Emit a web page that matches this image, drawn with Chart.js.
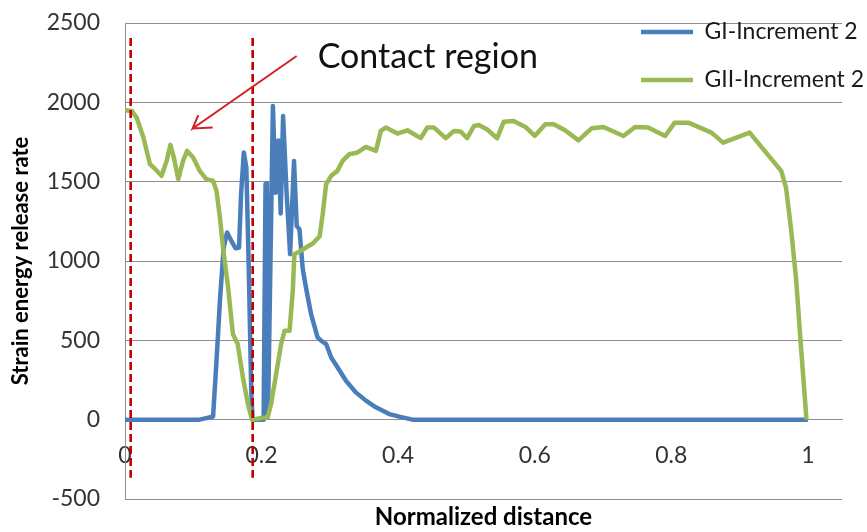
<!DOCTYPE html>
<html>
<head>
<meta charset="utf-8">
<title>Strain energy release rate</title>
<script src="https://cdn.jsdelivr.net/npm/chart.js@4.4.0/dist/chart.umd.min.js"></script>
<style>
  body { margin: 0; background: #fff; }
  #chart { display: block; }
</style>
</head>
<body>
<canvas id="chart" width="867" height="532"></canvas>
<script>
// values
const giDistance = [0, 0.109, 0.119, 0.129, 0.134, 0.139, 0.1445, 0.1495, 0.1557, 0.162, 0.167, 0.170, 0.174,
  0.1777, 0.181, 0.185, 0.187, 0.203, 0.2058, 0.2078, 0.2095, 0.2166, 0.2205, 0.2245, 0.228, 0.2315, 0.2365,
  0.2418, 0.2475, 0.2515, 0.2555, 0.2603, 0.265, 0.2725, 0.282, 0.2895, 0.2945, 0.302, 0.3114, 0.3236, 0.338,
  0.3528, 0.3674, 0.387, 0.4015, 0.421, 1];
const giRate = [0, 0, 10, 20, 371, 749, 1085, 1180, 1127, 1080, 1085, 1421, 1684,
  1589, 1001, 162, 0, 0, 1484, 1490, 40, 1977, 1430, 1760, 1300, 1914, 1440,
  1043, 1631, 1220, 1200, 950, 833, 665, 518, 490, 477, 392, 329, 245, 172,
  120, 78, 35, 19, 0, 0];

const giiDistance = [0, 0.01, 0.017, 0.027, 0.0365, 0.044, 0.0535, 0.061, 0.0665, 0.0715, 0.078, 0.085, 0.091,
  0.0998, 0.1095, 0.119, 0.129, 0.134, 0.139, 0.1435, 0.151, 0.158, 0.165, 0.1727, 0.18, 0.186, 0.2, 0.209,
  0.214, 0.2214, 0.2287, 0.2336, 0.241, 0.2457, 0.248, 0.2555, 0.265, 0.275, 0.285, 0.2895, 0.2945, 0.302,
  0.311, 0.3187, 0.3285, 0.3406, 0.3528, 0.3674, 0.3747, 0.382, 0.399, 0.4135, 0.433, 0.4428, 0.4526, 0.4696,
  0.4818, 0.4915, 0.501, 0.511, 0.518, 0.53, 0.545, 0.5547, 0.569, 0.5864, 0.6, 0.6155, 0.628, 0.645, 0.664,
  0.6837, 0.7007, 0.73, 0.747, 0.766, 0.791, 0.805, 0.825, 0.8588, 0.876, 0.8953, 0.9148, 0.9367, 0.961,
  0.968, 0.9757, 0.983, 0.99, 0.998];
const giiRate = [1950, 1946, 1904, 1778, 1610, 1580, 1537, 1631, 1732, 1652, 1516, 1631, 1694,
  1652, 1568, 1516, 1505, 1442, 1274, 1085, 833, 540, 477, 266, 99, 0, 10, 15,
  100, 290, 477, 560, 560, 812, 1043, 1060, 1085, 1110, 1155, 1295, 1484, 1537,
  1568, 1631, 1673, 1684, 1719, 1694, 1820, 1841, 1803, 1824, 1774, 1841, 1841, 1774,
  1820, 1816, 1774, 1851, 1857, 1830, 1774, 1878, 1882, 1845, 1788, 1862, 1862, 1822, 1760,
  1837, 1845, 1788, 1845, 1841, 1788, 1872, 1872, 1809, 1746, 1778, 1809, 1694, 1568,
  1463, 1190, 875, 455, 0];

const xTicks = [0, 0.2, 0.4, 0.6, 0.8, 1];
const yTicks = [-500, 0, 500, 1000, 1500, 2000, 2500];

// contact region markers, arrow and note (data coordinates)
const markerX = [0.0083, 0.187];
const markerY = [2405, -366];
const arrowX = [0.2514, 0.0991, 0.1073, 0.0991, 0.1284];
const arrowY = [2292, 1835, 1919, 1835, 1842];
const noteText = 'Contact region';
const notePos = [0.2821, 2287];

const zip = (xs, ys) => xs.map((x, i) => ({x: x, y: ys[i]}));

const BLUE = '#4a7ebb';
const GREEN = '#98b954';
const RED = '#c00000';
const GRID = '#8e8e8e';
const FONT = 'Lato, "Open Sans", sans-serif';

function markerSet(x) {
  return {
    label: 'marker', data: zip([x, x], markerY),
    borderColor: RED, borderWidth: 2.6, borderDash: [8, 4],
    pointRadius: 0, order: -1
  };
}

// puts the legend at the top right, overlapping the plot like the original
const legendSpot = {
  id: 'legendSpot',
  afterLayout(chart) {
    const lg = chart.legend;
    if (!lg) return;
    lg.left = 616;
    lg.right = lg.left + lg.width;
    lg.top = -4.5;
    lg.bottom = lg.top + 300;
  }
};

const contactNote = {
  id: 'contactNote',
  afterDatasetsDraw(chart) {
    const {ctx, scales} = chart;
    ctx.save();
    ctx.font = '34px ' + FONT;
    ctx.fillStyle = '#111';
    ctx.textAlign = 'left';
    ctx.textBaseline = 'middle';
    ctx.fillText(noteText, scales.x.getPixelForValue(notePos[0]), scales.y.getPixelForValue(notePos[1]));
    ctx.restore();
  }
};

new Chart(document.getElementById('chart'), {
  type: 'line',
  data: {
    datasets: [
      {
        label: 'GI-Increment 2', data: zip(giDistance, giRate),
        borderColor: BLUE, backgroundColor: BLUE, borderWidth: 4.5,
        pointRadius: 0, borderJoinStyle: 'round', order: 1
      },
      {
        label: 'GII-Increment 2', data: zip(giiDistance, giiRate),
        borderColor: GREEN, backgroundColor: GREEN, borderWidth: 4.5,
        pointRadius: 0, borderJoinStyle: 'round', order: 0
      },
      markerSet(markerX[0]),
      markerSet(markerX[1]),
      {
        label: 'arrow', data: zip(arrowX, arrowY),
        borderColor: '#d42020', borderWidth: 2, pointRadius: 0, order: -2
      }
    ]
  },
  options: {
    responsive: false,
    animation: false,
    layout: { padding: { left: 0, top: 23, right: 25, bottom: 33 } },
    plugins: {
      tooltip: { enabled: false },
      legend: {
        position: 'chartArea',
        align: 'start',
        labels: {
          usePointStyle: true,
          pointStyle: 'line',
          pointStyleWidth: 52,
          padding: 25,
          color: '#1a1a1a',
          font: { family: FONT, size: 23 },
          filter: (item) => item.datasetIndex < 2,
          sort: (a, b) => a.datasetIndex - b.datasetIndex
        }
      }
    },
    scales: {
      x: {
        type: 'linear',
        position: { y: 0 },
        min: 0,
        max: 1.05,
        afterBuildTicks: (scale) => { scale.ticks = xTicks.map(v => ({value: v})); },
        grid: { display: false, drawTicks: false },
        border: { color: GRID, width: 1 },
        ticks: {
          padding: 22,
          color: '#333',
          font: { family: FONT, size: 23 },
          callback: (v) => String(v)
        },
        title: {
          display: true,
          text: 'Normalized distance',
          color: '#000',
          padding: { top: 12, bottom: 0 },
          font: { family: FONT, size: 24, weight: 'bold' }
        }
      },
      y: {
        min: -500,
        max: 2500,
        afterBuildTicks: (scale) => { scale.ticks = yTicks.map(v => ({value: v})); },
        afterFit: (scale) => { scale.width = 125; },
        grid: { color: GRID, lineWidth: 1, drawTicks: true, tickLength: 16, tickColor: 'rgba(0,0,0,0)' },
        border: { color: GRID, width: 1 },
        ticks: {
          padding: 9,
          color: '#333',
          font: { family: FONT, size: 23 },
          callback: (v) => String(v)
        },
        title: {
          display: true,
          text: 'Strain energy release rate',
          color: '#000',
          padding: { top: 8, bottom: 0 },
          font: { family: FONT, size: 22, weight: 'bold' }
        }
      }
    }
  },
  plugins: [legendSpot, contactNote]
});
</script>
</body>
</html>
